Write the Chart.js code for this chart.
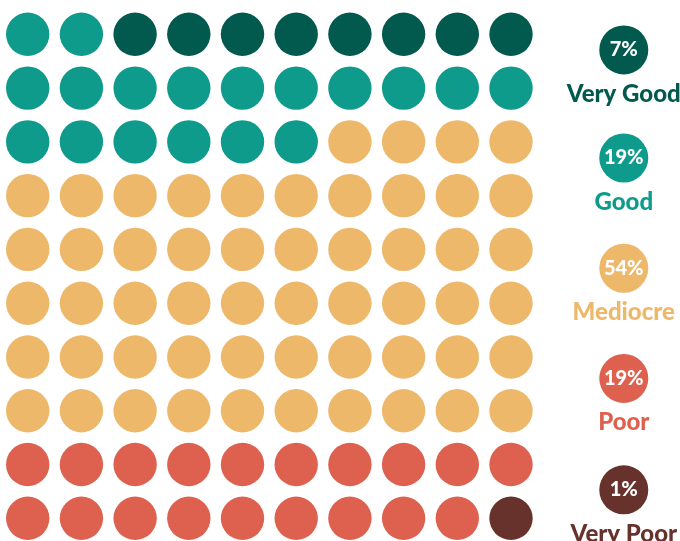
<!DOCTYPE html>
<html>
<head>
<meta charset="utf-8">
<script src="https://cdn.jsdelivr.net/npm/chart.js@4"></script>
<style>
  html, body { margin: 0; padding: 0; background: #ffffff; }
  #wrap { width: 680px; height: 541px; }
</style>
</head>
<body>
<div id="wrap"><canvas id="waffle" width="680" height="541"></canvas></div>
<script>
// Categorias e valores
const categories = ['Very Good', 'Good', 'Mediocre', 'Poor', 'Very Poor'];
const percentLabels = ['7%', '19%', '54%', '19%', '1%'];
const colors = ['#02594d', '#0e9b8b', '#edb86a', '#de6150', '#67322c'];

// Sequência de preenchimento da grade 10x10 (linha a linha): [categoria, quantidade]
const fillRuns = [[1, 2], [0, 8], [1, 16], [2, 54], [3, 19], [4, 1]];
const gridColumns = 10;

// Posição vertical dos marcadores da legenda (em unidades de linha)
const legendRows = [0.29, 2.3, 4.35, 6.4, 8.47];
const legendColumn = 11.1;

// Monta os pontos da grade a partir das sequências
function buildGrid() {
    const cells = categories.map(() => []);
    let index = 0;
    fillRuns.forEach(([cat, count]) => {
        for (let i = 0; i < count; i++) {
            cells[cat].push({ x: index % gridColumns, y: Math.floor(index / gridColumns) });
            index++;
        }
    });
    return cells;
}

const gridCells = buildGrid();

const datasets = categories.map((name, i) => ({
    label: name,
    data: gridCells[i],
    backgroundColor: colors[i],
    borderWidth: 0,
    pointRadius: 21.7,
    pointHoverRadius: 21.7
}));

datasets.push({
    label: 'legend',
    data: legendRows.map(y => ({ x: legendColumn, y })),
    backgroundColor: colors,
    borderWidth: 0,
    pointRadius: 24.5,
    pointHoverRadius: 24.5
});

// Plugin para escrever os textos da legenda
const legendText = {
    id: 'legendText',
    afterDatasetsDraw(chart) {
        const ctx = chart.ctx;
        const meta = chart.getDatasetMeta(chart.data.datasets.length - 1);
        ctx.save();
        ctx.textAlign = 'center';
        ctx.textBaseline = 'middle';
        meta.data.forEach((pt, i) => {
            ctx.fillStyle = '#ffffff';
            ctx.font = '900 20px Lato';
            ctx.fillText(percentLabels[i], pt.x, pt.y);
            ctx.fillStyle = colors[i];
            ctx.font = '900 24px Lato';
            ctx.fillText(categories[i], pt.x, pt.y + 44);
        });
        ctx.restore();
    }
};

new Chart(document.getElementById('waffle'), {
    type: 'scatter',
    data: { datasets },
    options: {
        responsive: false,
        animation: false,
        devicePixelRatio: 1,
        layout: { padding: 0, autoPadding: false },
        clip: false,
        plugins: {
            legend: { display: false },
            tooltip: { enabled: false }
        },
        scales: {
            x: { type: 'linear', display: false, min: -0.516, max: 12.147 },
            y: { type: 'linear', display: false, reverse: true, min: -0.638, max: 9.422 }
        }
    },
    plugins: [legendText]
});
</script>
</body>
</html>
